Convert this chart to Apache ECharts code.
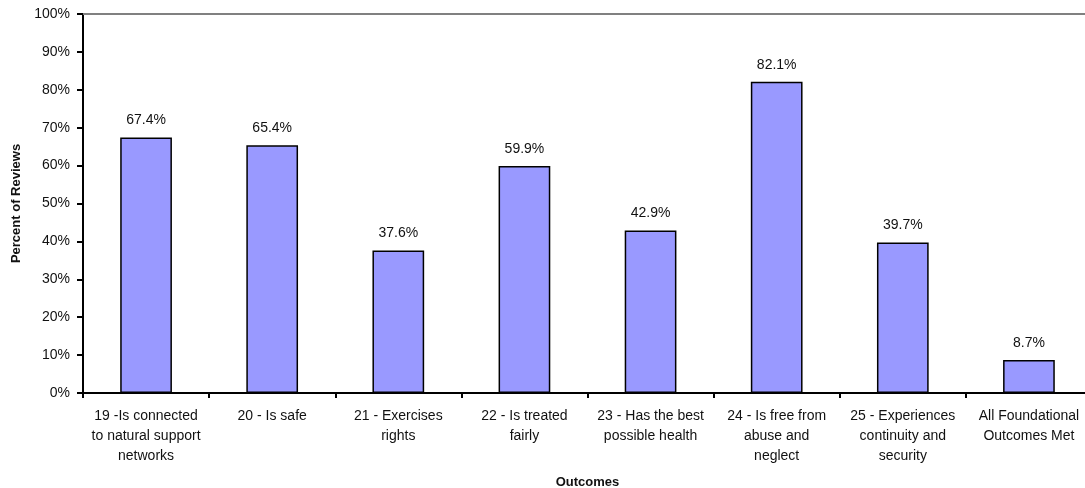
<!DOCTYPE html>
<html>
<head>
<meta charset="utf-8">
<script src="https://cdn.jsdelivr.net/npm/echarts@6/dist/echarts.min.js"></script>
<style>
  html, body { margin: 0; padding: 0; background: #fff; }
  #chart { width: 1085px; height: 488px; }
</style>
</head>
<body>
<div id="chart"></div>
<script>
// Outcome categories, each split into the lines shown under the axis
const outcomeLines = [
  ['19 -Is connected', 'to natural support', 'networks'],
  ['20 - Is safe'],
  ['21 - Exercises', 'rights'],
  ['22 - Is treated', 'fairly'],
  ['23 - Has the best', 'possible health'],
  ['24 - Is free from', 'abuse and', 'neglect'],
  ['25 - Experiences', 'continuity and', 'security'],
  ['All Foundational', 'Outcomes Met']
];
// Percent of reviews meeting each outcome
const percentOfReviews = [67.4, 65.4, 37.6, 59.9, 42.9, 82.1, 39.7, 8.7];
// Y axis ticks
const yTicks = [0, 10, 20, 30, 40, 50, 60, 70, 80, 90, 100];

const categories = outcomeLines.map(l => l.join('\n'));
const font = 'Arial, "Liberation Sans", sans-serif';

const chart = echarts.init(document.getElementById('chart'), null, { renderer: 'canvas' });
chart.setOption({
  animation: false,
  backgroundColor: '#ffffff',
  textStyle: { fontFamily: font },
  grid: { left: 83, top: 14, width: 1009, height: 379, containLabel: false, outerBoundsMode: 'none' },
  xAxis: [
    {
      type: 'category',
      data: categories,
      position: 'bottom',
      name: 'Outcomes',
      nameLocation: 'middle',
      nameGap: 83,
      nameTextStyle: { fontFamily: font, fontSize: 13, fontWeight: 'bold', color: '#111' },
      axisLine: { lineStyle: { color: '#000', width: 2 } },
      axisTick: { show: true, length: 5, lineStyle: { color: '#000', width: 2 } },
      axisLabel: {
        interval: 0, margin: 13, fontFamily: font, fontSize: 14,
        lineHeight: 20, color: '#111', align: 'center'
      },
      splitLine: { show: false }
    },
    {
      type: 'category',
      data: categories,
      position: 'top',
      axisLine: { lineStyle: { color: '#808080', width: 2 } },
      axisTick: { show: false },
      axisLabel: { show: false },
      splitLine: { show: false }
    }
  ],
  yAxis: {
    type: 'value',
    min: yTicks[0],
    max: yTicks[yTicks.length - 1],
    interval: yTicks[1] - yTicks[0],
    name: 'Percent of Reviews',
    nameLocation: 'middle',
    nameGap: 60,
    nameRotate: 90,
    nameTextStyle: { fontFamily: font, fontSize: 13, fontWeight: 'bold', color: '#111' },
    axisLine: { show: true, lineStyle: { color: '#000', width: 2 } },
    axisTick: { show: true, length: 6, lineStyle: { color: '#000', width: 2 } },
    axisLabel: {
      margin: 13, fontFamily: font, fontSize: 14, color: '#111',
      formatter: v => v + '%'
    },
    splitLine: { show: false }
  },
  series: [{
    type: 'bar',
    xAxisIndex: 0,
    data: percentOfReviews,
    barWidth: '41%',
    itemStyle: { color: '#9999FF', borderColor: '#000', borderWidth: 1.5 },
    label: {
      show: true, position: 'top', distance: 10,
      fontFamily: font, fontSize: 14, color: '#111',
      formatter: p => p.value.toFixed(1) + '%'
    }
  }]
});
</script>
</body>
</html>
